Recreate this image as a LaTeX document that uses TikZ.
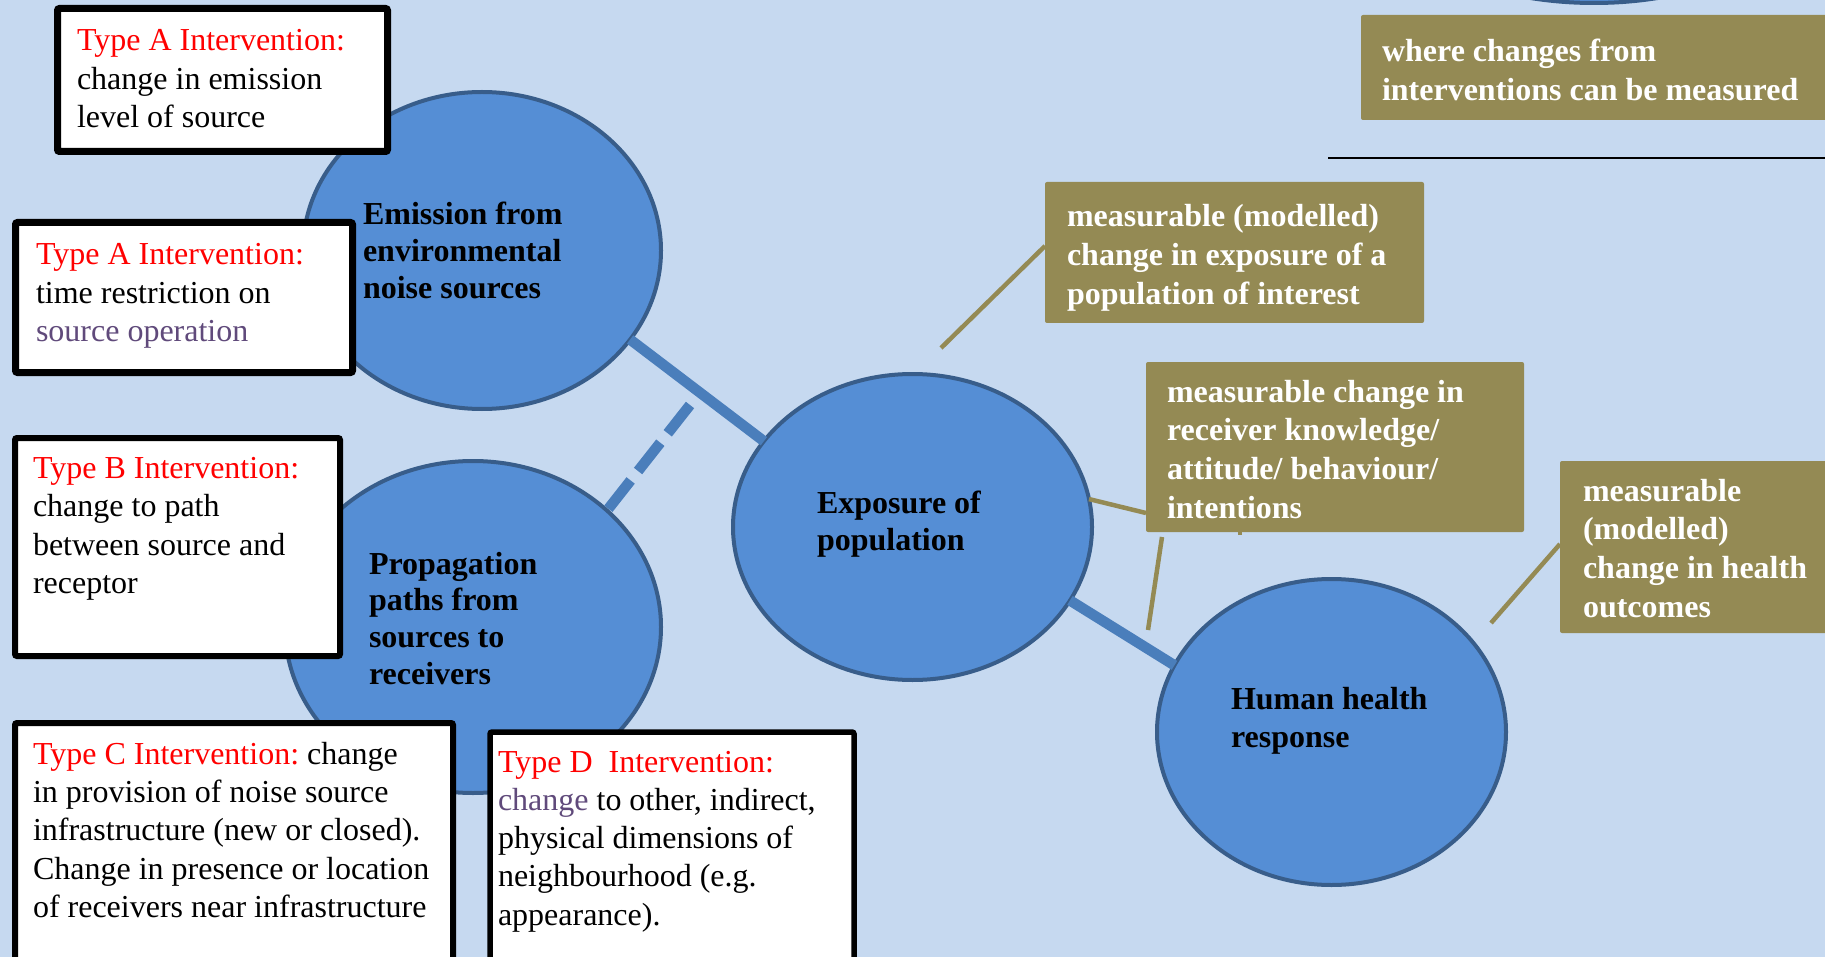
\documentclass[tikz,border=0pt]{standalone}
\usepackage{fontspec}
\setmainfont{Liberation Serif}
\usetikzlibrary{shapes.geometric,calc}
\definecolor{bgblue}{HTML}{C6D9F0}
\definecolor{ellfill}{HTML}{558ED5}
\definecolor{ellborder}{HTML}{385D8A}
\definecolor{linkblue}{HTML}{4A7EBB}
\definecolor{olivebox}{HTML}{948A54}
\definecolor{purpletxt}{HTML}{604A7B}
\definecolor{redtxt}{HTML}{FF0000}
\frenchspacing
\begin{document}
\begin{tikzpicture}[x=1pt,y=-1pt,
  bubble/.style={ellipse, draw=ellborder, line width=4pt, fill=ellfill, inner sep=0pt, outer sep=0pt},
  ibox/.style={rectangle, draw=black, fill=white, inner sep=0pt, outer sep=0pt, rounded corners=2pt, anchor=north west},
  obox/.style={rectangle, fill=olivebox, inner sep=0pt, outer sep=0pt, rounded corners=2pt, anchor=north west},
  itext/.style={anchor=base west, inner sep=0pt, outer sep=0pt, text width=520pt, align=flush left, font=\fontsize{32}{38.5}\selectfont},
  etext/.style={itext, font=\fontsize{32}{37}\selectfont\bfseries},
  otext/.style={itext, text=white, font=\fontsize{32}{38.7}\selectfont\bfseries},
  link/.style={draw=linkblue, line width=10.5pt},
  olink/.style={draw=olivebox, line width=4.5pt}
]
\useasboundingbox (0,0) rectangle (1825,957);
\clip (0,0) rectangle (1825,957);
\fill[bgblue] (0,0) rectangle (1825,957);

% partial ellipse at top
\node[bubble, minimum width=500pt, minimum height=306pt] (topell) at (1594,-150) {};

% ellipses
\node[bubble, minimum width=358pt, minimum height=317pt] (em) at (482,250.5) {};
\node[bubble, minimum width=376pt, minimum height=332pt] (pr) at (473,627) {};
\node[bubble, minimum width=359pt, minimum height=306pt] (ex) at (912.5,527) {};
\node[bubble, minimum width=349pt, minimum height=306pt] (hu) at (1331.5,732) {};

% blue connectors
\coordinate (dtop) at (690,405);
\draw[link] (em.-31.5) -- (ex.150.9);
\draw[link] (ex.-25.2) -- (hu.157.1);
\draw[link, dash pattern=on 36pt off 12pt] (dtop) -- (pr.41.8);

% olive boxes
\node[obox, minimum width=480pt, minimum height=105pt] (o0) at (1361,15) {};
\node[obox, minimum width=379pt, minimum height=141pt] (o1) at (1045,182) {};
\node[obox, minimum width=378pt, minimum height=170pt] (o2) at (1146,362) {};
\node[obox, minimum width=280pt, minimum height=172pt] (o3) at (1560,461) {};

% olive connectors
\coordinate (c1) at (941,348);
\coordinate (c3) at (1148,630);
\coordinate (c4) at (1491,623);
\draw[olink] ([yshift=6.5pt]o1.west) -- (c1);
\draw[olink] (ex.9.6) -- ([yshift=-66pt]o2.west);
\draw[olink] ([xshift=16pt,yshift=-5pt]o2.south west) -- (c3);
\draw[olink] ([xshift=94pt]o2.south west) -- ([xshift=94pt,yshift=-3pt]o2.south west);
\draw[olink] ([yshift=3pt]o3.west) -- (c4);

% legend rule
\coordinate (rule1) at (1328,158);
\coordinate (rule2) at (1830,158);
\draw[black, line width=2.5pt] (rule1) -- (rule2);

% white intervention boxes
\node[ibox, line width=7pt, minimum width=330pt, minimum height=143pt] (bA1) at (57.5,8.5) {};
\node[ibox, line width=7pt, minimum width=337pt, minimum height=150pt] (bA2) at (15.5,222.5) {};
\node[ibox, line width=6pt, minimum width=325pt, minimum height=218pt] (bB) at (15,438) {};
\node[ibox, line width=6pt, minimum width=438pt, minimum height=260pt] (bC) at (15,723) {};
\node[ibox, line width=5.5pt, minimum width=364pt, minimum height=248pt] (bD) at (490,732) {};

% texts in white boxes
\node[itext] (tA1) at (77,51) {\textcolor{redtxt}{Type A Intervention:}\\change in emission\\level of source};
\node[itext] (tA2) at (36,265) {\textcolor{redtxt}{Type A Intervention:}\\time restriction on\\\textcolor{purpletxt}{source operation}};
\node[itext, font=\fontsize{32}{38.6}\selectfont] (tB) at (33,478) {\textcolor{redtxt}{Type B Intervention:}\\change to path\\between source and\\receptor};
\node[itext, font=\fontsize{32}{38.2}\selectfont] (tC) at (33,764.5) {\textcolor{redtxt}{Type C Intervention:} change\\in provision of noise source\\infrastructure (new or closed).\\Change in presence or location\\of receivers near infrastructure};
\node[itext, font=\fontsize{32}{38.3}\selectfont] (tD) at (498,772) {\textcolor{redtxt}{Type D~~Intervention:}\\\textcolor{purpletxt}{change} to other, indirect,\\physical dimensions of\\neighbourhood (e.g.\\appearance).};

% texts in ellipses
\node[etext] (tem) at (363,225) {Emission from\\environmental\\noise sources};
\node[etext, font=\fontsize{32}{36.7}\selectfont\bfseries] (tpr) at (369,574) {Propagation\\paths from\\sources to\\receivers};
\node[etext] (tex) at (817,513) {Exposure of\\population};
\node[etext, font=\fontsize{32}{38}\selectfont\bfseries] (thu) at (1231,709) {Human health\\response};

% texts in olive boxes
\node[otext, font=\fontsize{32}{39}\selectfont\bfseries] (to0) at (1382,62) {where changes from\\interventions can be measured};
\node[otext] (to1) at (1067,227) {measurable (modelled)\\change in exposure of a\\population of interest};
\node[otext, font=\fontsize{32}{38.7}\selectfont\bfseries] (to2) at (1167,402) {measurable change in\\receiver knowledge/\\attitude/ behaviour/\\intentions};
\node[otext, font=\fontsize{32}{38.7}\selectfont\bfseries] (to3) at (1583,501) {measurable\\(modelled)\\change in health\\outcomes};
\end{tikzpicture}
\end{document}
